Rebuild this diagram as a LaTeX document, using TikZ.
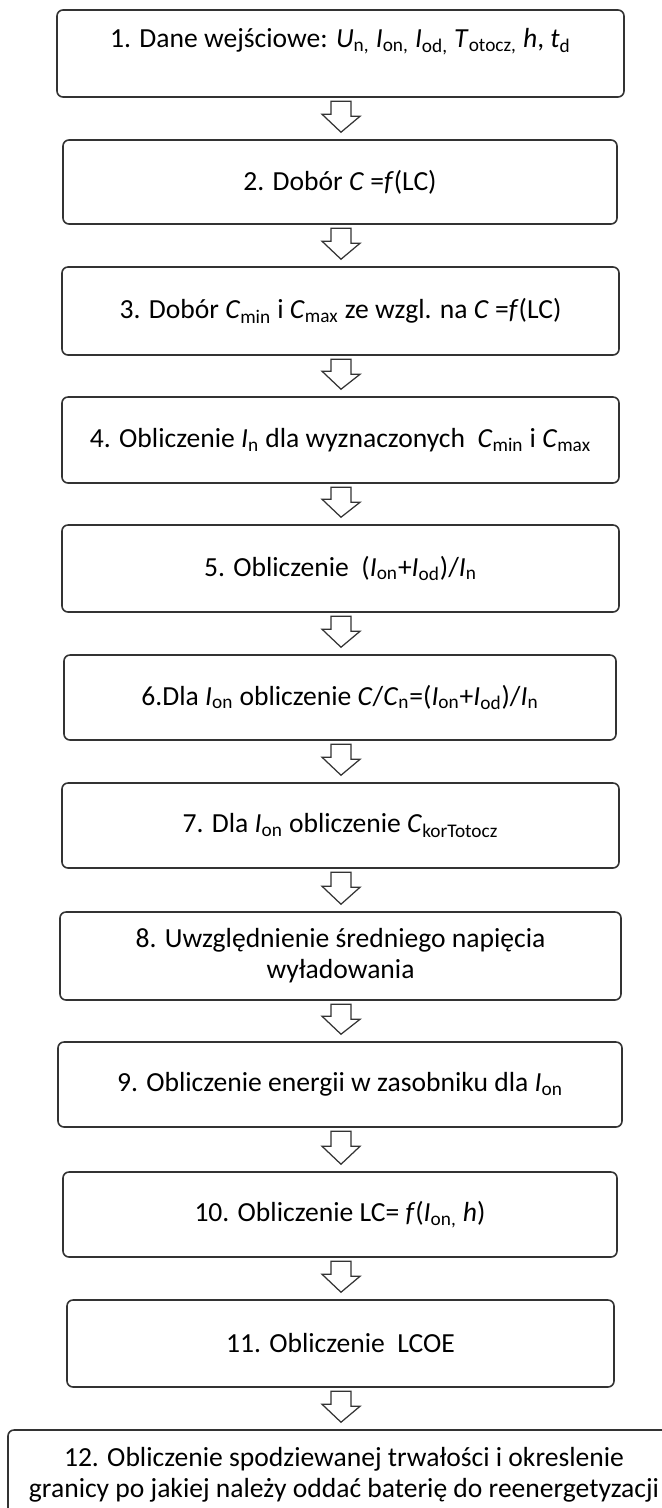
\documentclass[tikz,border=0pt]{standalone}
\usepackage{fontspec}
\setmainfont{Carlito}
\usetikzlibrary{calc}

\newcommand{\vr}[2]{\textit{#1}\textsubscript{#2}}

\tikzset{
  stepbox/.style n args={2}{draw=black!80, line width=0.9pt, rounded corners=0.12cm,
    align=center, inner sep=0pt, font=\fontsize{15.7}{17.6}\selectfont,
    minimum width=#1*0.02cm, minimum height=#2*0.02cm},
  blockarrow/.style={draw=black!80, line width=0.7pt, fill=white}
}

\begin{document}
\begin{tikzpicture}[x=0.02cm, y=-0.02cm]
  \clip (0,0) rectangle (662,1508);
  \fill[white] (0,0) rectangle (662,1508);
  \coordinate (axis) at (341,0);

  % the twelve steps
  \node[stepbox={567}{87}] (b1) at (340.5,53.5)
    {1. Dane wejściowe: \vr{U}{n,} \vr{I}{on,} \vr{I}{od,} \vr{T}{otocz,} \textit{h}, \vr{t}{d}\\ ~};
  \node[stepbox={554}{84}] (b2) at (340,182) {2. Dobór \textit{C} =\textit{f}(LC)};
  \node[stepbox={557}{88}] (b3) at (340.5,311)
    {3. Dobór \vr{C}{min} i \vr{C}{max} ze wzgl. na \textit{C} =\textit{f}(LC)};
  \node[stepbox={557}{86}] (b4) at (340.5,440)
    {4. Obliczenie \vr{I}{n} dla wyznaczonych\ \ \vr{C}{min} i \vr{C}{max}};
  \node[stepbox={557}{87}] (b5) at (340.5,568.5)
    {5. Obliczenie\ \ (\vr{I}{on}+\vr{I}{od})/\vr{I}{n}};
  \node[stepbox={552}{85}] (b6) at (340,697.5)
    {6.Dla \vr{I}{on} obliczenie \textit{C}/\vr{C}{n}=(\vr{I}{on}+\vr{I}{od})/\vr{I}{n}};
  \node[stepbox={557}{85}] (b7) at (340.5,825.5)
    {7. Dla \vr{I}{on} obliczenie \vr{C}{korTotocz}};
  \node[stepbox={561}{88}] (b8) at (340.5,956)
    {8. Uwzględnienie średniego napięcia\\wyładowania};
  \node[stepbox={564}{85}] (b9) at (340,1084.5)
    {9. Obliczenie energii w zasobniku dla \vr{I}{on}};
  \node[stepbox={554}{85}] (b10) at (340,1214.5)
    {10. Obliczenie LC= \textit{f}(\vr{I}{on,} \textit{h})};
  \node[stepbox={547}{87}] (b11) at (340.5,1343.5) {11. Obliczenie\ \ LCOE};
  \node[stepbox={672}{90}] (b12) at (344,1475)
    {12. Obliczenie spodziewanej trwałości i okreslenie\\granicy po jakiej należy oddać baterię do reenergetyzacji};

  % hollow arrows between the steps
  \foreach \i [evaluate=\i as \j using int(\i+1)] in {1,...,11}
    \draw[blockarrow] ($(axis |- b\i.south)+(-10,3.5)$) -- ++(20,0) -- ++(0,15) -- ++(9,0)
      -- ($(axis |- b\j.north)+(0,-7)$) -- ++(-19,-18) -- ++(9,0) -- cycle;
\end{tikzpicture}
\end{document}
